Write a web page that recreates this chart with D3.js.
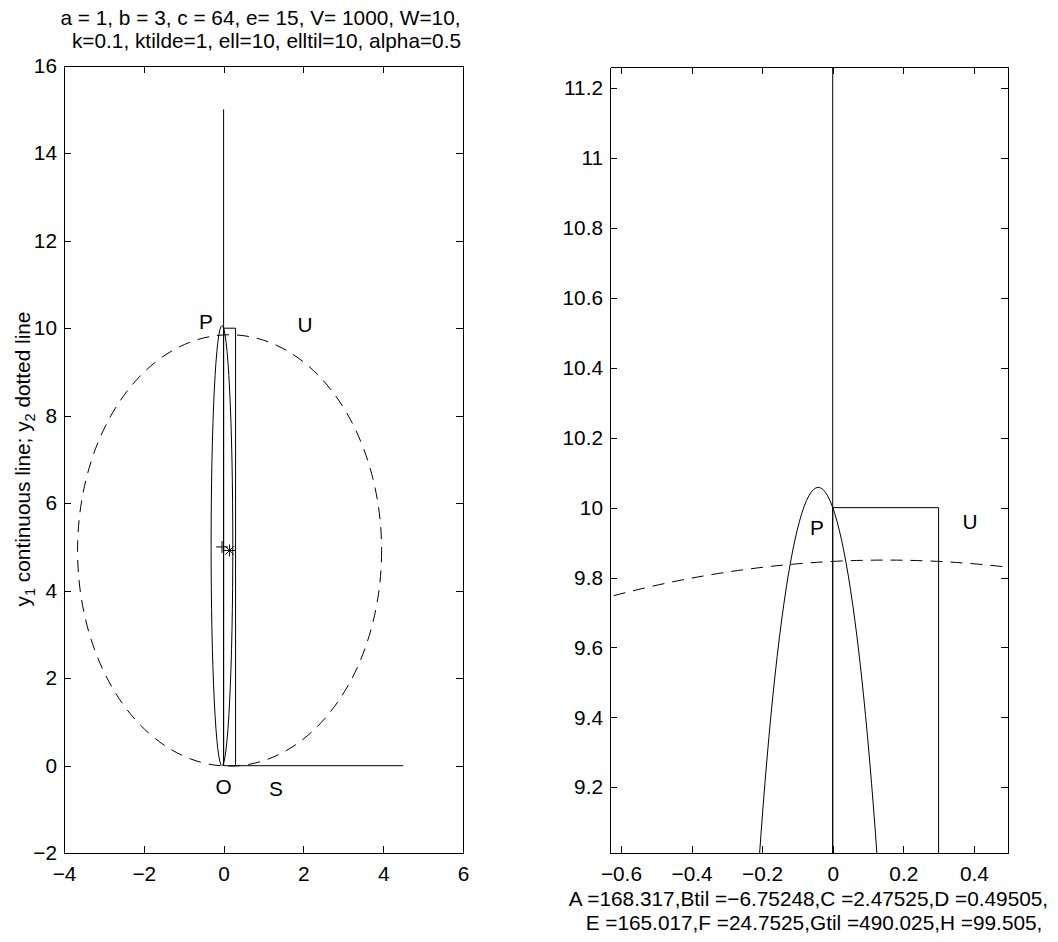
<!DOCTYPE html>
<html>
<head>
<meta charset="utf-8">
<script src="https://cdn.jsdelivr.net/npm/d3@7"></script>
<style>
  html, body { margin: 0; padding: 0; background: #fff; overflow: hidden; }
  svg { display: block; }
  text { font-family: "Liberation Sans", Arial, sans-serif; fill: #000; }
</style>
</head>
<body>
<div id="chart"></div>
<script>
// two panels: full view and zoom near the top of the narrow ellipse

// ellipses as [centre x, centre y, radius x, radius y]
const solidEllipse = [-0.041, 5.03, 0.272, 5.028];
const dashedEllipse = [0.15, 4.92, 3.81, 4.93];

// straight pieces, [x, y] points
const stemLine = [[0, 0], [0, 15]];
const boxLine = [[0, 0], [0, 10], [0.3, 10], [0.3, 0]];
const baseLine = [[0, 0], [4.5, 0]];

// markers
const plusMark = [-0.04, 5.0];
const starMark = [0.15, 4.92];

// point labels per panel
const labelNames = ["P", "U", "O", "S"];
const leftLabelPos = [[-0.44, 10.14], [2.04, 10.07], [0.0, -0.48], [1.31, -0.52]];
const rightLabelPos = [[-0.045, 9.943], [0.389, 9.96], [0.0, -0.48], [1.31, -0.52]];

// axis limits and ticks
const leftXDomain = [-4, 6], leftYDomain = [-2, 16];
const leftXTicks = [-4, -2, 0, 2, 4, 6];
const leftYTicks = [-2, 0, 2, 4, 6, 8, 10, 12, 14, 16];
const rightXDomain = [-0.631, 0.4975], rightYDomain = [9.011, 11.26];
const rightXTicks = [-0.6, -0.4, -0.2, 0, 0.2, 0.4];
const rightYTicks = [9.2, 9.4, 9.6, 9.8, 10, 10.2, 10.4, 10.6, 10.8, 11, 11.2];

const titleLines = ["a = 1, b = 3, c = 64, e= 15, V= 1000, W=10,",
                    "k=0.1, ktilde=1, ell=10, elltil=10, alpha=0.5"];
const xLabelLines = ["A =168.317,Btil =\u22126.75248,C =2.47525,D =0.49505,",
                     "E =165.017,F =24.7525,Gtil =490.025,H =99.505,"];

const width = 1058, height = 942, fs = 20.8;

let svg = d3.select("#chart")
    .append("svg")
    .attr("width", width)
    .attr("height", height)
    .attr("viewBox", [0, 0, width, height]);

svg.append("rect").attr("width", width).attr("height", height).attr("fill", "#fff");

const fmt = d3.format("~g");

function panel(id, box, xDom, yDom, xTicks, yTicks, labels) {
    let x = d3.scaleLinear().domain(xDom).range([box.left, box.right]);
    let y = d3.scaleLinear().domain(yDom).range([box.bottom, box.top]);

    svg.append("clipPath").attr("id", id)
        .append("rect")
        .attr("x", box.left).attr("y", box.top)
        .attr("width", box.right - box.left).attr("height", box.bottom - box.top);

    let g = svg.append("g").attr("clip-path", `url(#${id})`)
        .attr("fill", "none").attr("stroke", "#000").attr("stroke-width", 1);

    let line = d3.line().x(d => x(d[0])).y(d => y(d[1]));

    for (let pts of [stemLine, boxLine, baseLine]) {
        g.append("path").attr("d", line(pts));
    }

    g.append("ellipse")
        .attr("cx", x(solidEllipse[0])).attr("cy", y(solidEllipse[1]))
        .attr("rx", x(solidEllipse[0] + solidEllipse[2]) - x(solidEllipse[0]))
        .attr("ry", y(solidEllipse[1] - solidEllipse[3]) - y(solidEllipse[1]));

    g.append("ellipse")
        .attr("cx", x(dashedEllipse[0])).attr("cy", y(dashedEllipse[1]))
        .attr("rx", x(dashedEllipse[0] + dashedEllipse[2]) - x(dashedEllipse[0]))
        .attr("ry", y(dashedEllipse[1] - dashedEllipse[3]) - y(dashedEllipse[1]))
        .attr("stroke-dasharray", "12,8");

    // + marker
    let px = x(plusMark[0]), py = y(plusMark[1]);
    g.append("path").attr("d", `M${px - 6},${py}H${px + 6}M${px},${py - 6}V${py + 6}`);
    // * marker
    let sx = x(starMark[0]), sy = y(starMark[1]);
    g.append("path").attr("d",
        `M${sx - 6},${sy}H${sx + 6}M${sx},${sy - 6}V${sy + 6}` +
        `M${sx - 4.3},${sy - 4.3}L${sx + 4.3},${sy + 4.3}M${sx - 4.3},${sy + 4.3}L${sx + 4.3},${sy - 4.3}`);

    // letters
    svg.append("g").selectAll("text")
        .data(labels)
        .join("text")
        .attr("x", d => x(d[1][0]))
        .attr("y", d => y(d[1][1]))
        .attr("text-anchor", "middle")
        .attr("dy", "0.35em")
        .attr("font-size", fs)
        .text(d => d[0]);

    // axes, ticks pointing inwards on all four sides
    const axes = [
        [d3.axisBottom(x).tickValues(xTicks).tickFormat(fmt).tickPadding(13), `translate(0,${box.bottom})`],
        [d3.axisTop(x).tickValues(xTicks).tickFormat(""), `translate(0,${box.top})`],
        [d3.axisLeft(y).tickValues(yTicks).tickFormat(fmt).tickPadding(7), `translate(${box.left},0)`],
        [d3.axisRight(y).tickValues(yTicks).tickFormat(""), `translate(${box.right},0)`]
    ];
    for (let [ax, tr] of axes) {
        svg.append("g")
            .attr("transform", tr)
            .call(ax.tickSizeInner(-7).tickSizeOuter(0))
            .call(a => a.selectAll("text").attr("font-size", fs).attr("font-family", null).attr("fill", "#000"))
            .call(a => a.selectAll("line,path").attr("stroke", "#000").attr("shape-rendering", "crispEdges"));
    }
    return {x, y};
}

const leftBox = {left: 64, right: 463, top: 65.7, bottom: 853.2};
const rightBox = {left: 610, right: 1008.3, top: 67.3, bottom: 853.3};

panel("clipL", leftBox, leftXDomain, leftYDomain, leftXTicks, leftYTicks,
      labelNames.map((n, i) => [n, leftLabelPos[i]]));
panel("clipR", rightBox, rightXDomain, rightYDomain, rightXTicks, rightYTicks,
      labelNames.map((n, i) => [n, rightLabelPos[i]]));

// title over the left panel
svg.append("g").selectAll("text")
    .data(titleLines)
    .join("text")
    .attr("font-size", fs).attr("text-anchor", "middle")
    .attr("x", (d, i) => [260.5, 266.5][i])
    .attr("y", (d, i) => 24.5 + i * 23.4)
    .text(d => d);

// x label under the right panel
svg.append("g").selectAll("text")
    .data(xLabelLines)
    .join("text")
    .attr("font-size", fs).attr("text-anchor", "middle")
    .attr("x", (d, i) => [808.5, 814][i])
    .attr("y", (d, i) => 905.5 + i * 24)
    .text(d => d);

// y label with subscripts
let yl = svg.append("text")
    .attr("font-size", fs).attr("text-anchor", "middle")
    .attr("transform", `translate(29.5,459) rotate(-90)`);
yl.append("tspan").text("y");
yl.append("tspan").attr("font-size", fs * 0.7).attr("dy", 5).text("1");
yl.append("tspan").attr("dy", -5).text(" continuous line; y");
yl.append("tspan").attr("font-size", fs * 0.7).attr("dy", 5).text("2");
yl.append("tspan").attr("dy", -5).text(" dotted line");
</script>
</body>
</html>
